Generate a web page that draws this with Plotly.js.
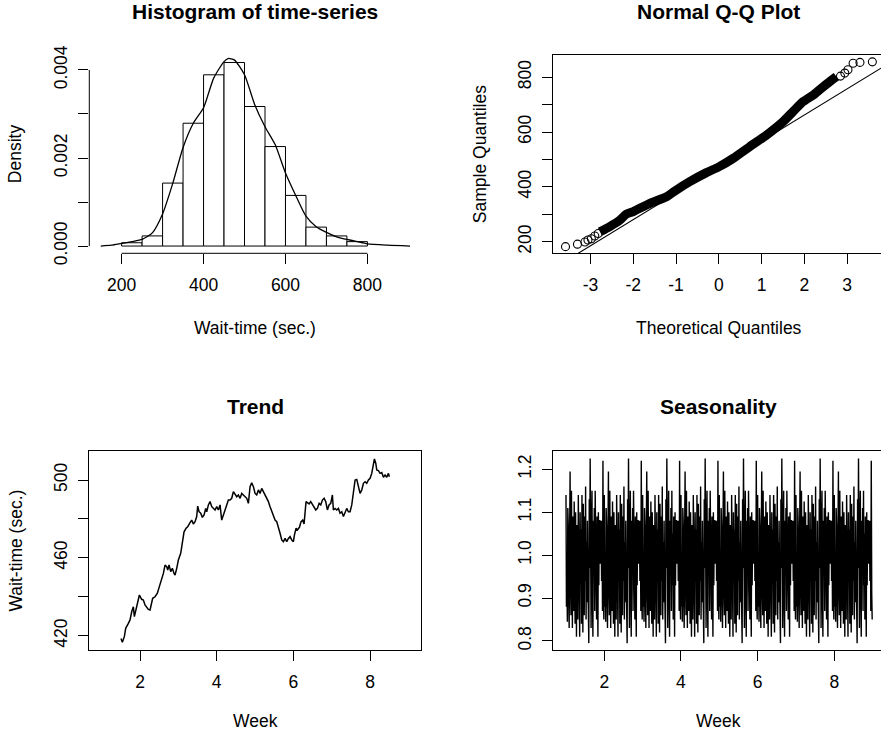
<!DOCTYPE html>
<html>
<head>
<meta charset="utf-8">
<script src="https://cdn.plot.ly/plotly-3.0.1.min.js"></script>
<style>html,body{margin:0;padding:0;background:#fff}#chart{width:881px;height:738px}</style>
</head>
<body>
<div id="chart"></div>
<script>
// ---------- Histogram of time-series ----------
const histBinStarts = [200, 250, 300, 350, 400, 450, 500, 550, 600, 650, 700, 750];
const histBinWidth = 50;
const histDensity = [0.000075, 0.00023, 0.00143, 0.00279, 0.00389, 0.00417, 0.00317, 0.00226, 0.00115, 0.00043, 0.00023, 0.0001];
const densityX = [149, 175, 200, 225, 250, 275, 300, 325, 350, 375, 400, 425, 450, 460, 475, 500, 525, 550, 575, 600, 625, 650, 675, 700, 725, 750, 775, 800, 850, 904];
const densityY = [0, 0.00002, 0.00006, 0.0001, 0.00015, 0.0003, 0.00073, 0.00143, 0.00224, 0.00279, 0.00314, 0.00382, 0.00419, 0.00426, 0.00423, 0.00389, 0.00321, 0.00271, 0.0023, 0.00166, 0.00115, 0.00068, 0.00044, 0.00031, 0.00021, 0.00015, 0.0001, 0.00005, 0.00002, 0];
const histXTicks = [200, 400, 600, 800];
const histYTicks = [0, 0.001, 0.002, 0.003, 0.004];
const histYTickText = ['0.000', '', '0.002', '', '0.004'];

// ---------- Normal Q-Q Plot ----------
const qqBandTheo = [-2.78, -2.55, -2.31, -2.16, -2.0, -1.61, -1.22, -0.99, -0.68, -0.29, 0, 0.335, 0.725, 1.115, 1.504, 1.738, 1.972, 2.206, 2.40, 2.595, 2.75];
const qqBandSample = [236, 255, 279, 301, 310, 340, 364, 389, 419, 452, 473, 504, 547, 589, 638, 675, 711, 735, 760, 784, 802];
const qqTailTheo = [-3.585, -3.305, -3.13, -3.06, -2.98, -2.90, -2.82, 2.845, 2.946, 3.02, 3.14, 3.30, 3.59];
const qqTailSample = [182, 191, 199, 206, 211, 221, 230, 804, 815, 827, 851, 854, 856];
const qqLineIntercept = 471.4;
const qqLineSlope = 95.4;
const qqXTicks = [-3, -2, -1, 0, 1, 2, 3];
const qqYTicks = [200, 300, 400, 500, 600, 700, 800];
const qqYTickText = ['200', '', '400', '', '600', '', '800'];

// ---------- Trend ----------
const trendWeek = [1.504, 1.539, 1.591, 1.626, 1.696, 1.739, 1.783, 1.826, 1.852, 1.896, 1.939, 1.983, 2.043, 2.087, 2.130, 2.174, 2.217, 2.261, 2.287, 2.330, 2.391, 2.452, 2.504, 2.565, 2.609, 2.652, 2.696, 2.722, 2.757, 2.800, 2.843, 2.887, 2.913, 2.957, 3.000, 3.061, 3.104, 3.148, 3.200, 3.243, 3.304, 3.348, 3.391, 3.435, 3.478, 3.504, 3.539, 3.583, 3.626, 3.670, 3.713, 3.739, 3.783, 3.826, 3.870, 3.913, 3.957, 4.000, 4.043, 4.087, 4.130, 4.174, 4.217, 4.261, 4.304, 4.348, 4.391, 4.435, 4.478, 4.522, 4.565, 4.609, 4.652, 4.696, 4.739, 4.783, 4.826, 4.870, 4.913, 4.957, 5.000, 5.043, 5.087, 5.130, 5.174, 5.217, 5.261, 5.304, 5.348, 5.391, 5.435, 5.478, 5.522, 5.565, 5.609, 5.652, 5.696, 5.739, 5.783, 5.826, 5.870, 5.913, 5.957, 6.000, 6.026, 6.070, 6.104, 6.157, 6.200, 6.243, 6.278, 6.304, 6.330, 6.365, 6.409, 6.452, 6.496, 6.539, 6.583, 6.626, 6.670, 6.713, 6.757, 6.800, 6.843, 6.887, 6.930, 6.974, 7.017, 7.043, 7.087, 7.130, 7.174, 7.217, 7.261, 7.304, 7.348, 7.391, 7.435, 7.478, 7.522, 7.565, 7.609, 7.652, 7.696, 7.739, 7.783, 7.826, 7.870, 7.913, 7.957, 8.000, 8.043, 8.087, 8.113, 8.148, 8.174, 8.217, 8.261, 8.304, 8.348, 8.391, 8.435, 8.478, 8.504];
const trendWait = [418.6, 416.6, 419.5, 423.8, 426.3, 428.1, 432.3, 434.9, 429.8, 434.0, 438.3, 440.9, 438.7, 438.3, 435.8, 434.9, 433.5, 433.2, 435.8, 439.2, 440.0, 441.8, 445.2, 448.6, 452.0, 456.3, 455.5, 453.7, 456.3, 452.9, 454.6, 452.0, 451.2, 454.6, 458.9, 462.3, 469.2, 473.4, 475.2, 476.0, 478.1, 479.4, 477.4, 478.6, 481.2, 486.6, 483.7, 482.9, 480.8, 482.0, 485.4, 483.7, 487.2, 488.9, 486.3, 485.4, 484.6, 486.3, 484.6, 487.2, 479.4, 482.0, 484.6, 488.0, 489.7, 489.7, 490.6, 494.0, 492.3, 491.4, 492.3, 490.6, 493.1, 492.3, 491.4, 490.6, 488.0, 496.6, 498.6, 496.6, 493.1, 492.3, 494.9, 493.1, 495.7, 494.0, 492.3, 490.6, 488.9, 486.3, 483.7, 481.2, 479.4, 478.6, 476.0, 472.6, 469.2, 468.3, 470.0, 468.3, 470.0, 470.9, 469.2, 468.3, 471.7, 475.2, 474.3, 475.7, 478.6, 479.4, 477.4, 483.7, 488.9, 488.4, 487.7, 488.9, 487.2, 486.3, 484.6, 485.4, 488.0, 487.2, 489.7, 490.6, 488.9, 484.6, 487.2, 488.0, 492.3, 484.6, 485.4, 484.6, 485.4, 482.9, 483.7, 481.2, 483.7, 485.4, 483.7, 483.7, 487.2, 494.0, 500.0, 500.3, 495.7, 493.1, 494.9, 498.3, 499.1, 498.3, 500.0, 500.9, 503.4, 507.7, 510.8, 508.6, 505.1, 504.8, 503.4, 503.8, 501.4, 502.6, 501.4, 503.4, 501.7];
const trendXTicks = [2, 4, 6, 8];
const trendYTicks = [420, 440, 460, 480, 500];
const trendYTickText = ['420', '', '460', '', '500'];

// ---------- Seasonality (one weekly cycle of the seasonal figure, repeated each week) ----------
const seasonalCycle = [
  1.14, 0.88, 0.96, 0.845, 1.11, 1.07, 0.90, 0.83, 1.05, 1.195, 0.93, 0.86,
  1.15, 0.97, 0.83, 1.09, 1.02, 0.87, 1.125, 0.95, 0.84, 1.10, 0.99, 0.81,
  1.07, 0.92, 0.85, 1.14, 1.03, 0.88, 0.81, 1.10, 0.96, 1.06, 0.84, 1.14,
  0.91, 0.82, 1.12, 1.00, 0.86, 1.09, 0.94, 1.16, 0.85, 1.03, 0.89, 1.08,
  0.95, 0.83, 0.795, 1.13, 0.97, 1.225, 0.88, 0.83, 1.06, 1.15, 0.90, 0.81,
  1.08, 0.96, 1.11, 0.87, 1.15, 0.93, 1.05, 0.85, 1.09, 1.00, 0.81, 1.10,
  0.93, 1.08, 1.08, 0.98, 1.08, 1.07, 0.94, 1.08, 0.87, 1.22, 0.91, 0.85
];
const seasonalStartWeek = 1;
const seasonalWeeks = 8;
const seasonXTicks = [2, 4, 6, 8];
const seasonYTicks = [0.8, 0.9, 1.0, 1.1, 1.2];

// ---------- build ----------
const FONT = 'Liberation Sans, Arial, Helvetica, sans-serif';
const W = 881, H = 738;
const px = v => v / W;
const py = v => 1 - v / H;

const leftDom = [px(89.3), px(420.7)];
const rightDom = [px(553.3), 1];
const topDom = [py(253.3), py(55)];
const botDom = [py(650), py(451)];

const seasonX = [], seasonY = [];
for (let w = 0; w < seasonalWeeks; w++) {
  for (let i = 0; i < seasonalCycle.length; i++) {
    seasonX.push(seasonalStartWeek + w + i / seasonalCycle.length);
    seasonY.push(seasonalCycle[i]);
  }
}

const histRangeX = [121.1, 930.1];
const histRangeY = [-0.000165, 0.00434];
const qqRangeX = [-3.87, 3.792];
const qqRangeY = [157.7, 881];

const traces = [
  {type: 'bar', x: histBinStarts.map(s => s + histBinWidth / 2), y: histDensity, width: histBinWidth,
   marker: {color: '#ffffff', line: {color: '#000', width: 1}}, xaxis: 'x', yaxis: 'y', hoverinfo: 'skip'},
  {type: 'scatter', mode: 'lines', x: densityX, y: densityY, line: {color: '#000', width: 1.3, shape: 'spline', smoothing: 0.6},
   xaxis: 'x', yaxis: 'y', hoverinfo: 'skip'},
  {type: 'scatter', mode: 'lines', x: qqRangeX, y: qqRangeX.map(t => qqLineIntercept + qqLineSlope * t),
   line: {color: '#000', width: 1.1}, xaxis: 'x2', yaxis: 'y2', hoverinfo: 'skip'},
  {type: 'scatter', mode: 'lines', x: qqBandTheo, y: qqBandSample, line: {color: '#000', width: 9, shape: 'spline', smoothing: 0.5},
   xaxis: 'x2', yaxis: 'y2', hoverinfo: 'skip'},
  {type: 'scatter', mode: 'markers', x: qqTailTheo, y: qqTailSample,
   marker: {symbol: 'circle-open', size: 8, color: '#000', line: {width: 1.1, color: '#000'}},
   xaxis: 'x2', yaxis: 'y2', hoverinfo: 'skip'},
  {type: 'scatter', mode: 'lines', x: trendWeek, y: trendWait, line: {color: '#000', width: 1.5},
   xaxis: 'x3', yaxis: 'y3', hoverinfo: 'skip'},
  {type: 'scatter', mode: 'lines', x: seasonX, y: seasonY, line: {color: '#000', width: 1.4},
   xaxis: 'x4', yaxis: 'y4', hoverinfo: 'skip'}
];

const baseAxis = {
  showgrid: false, zeroline: false, ticks: 'outside', ticklen: 10, tickwidth: 1, tickcolor: '#000',
  linecolor: '#000', linewidth: 1, tickfont: {family: FONT, size: 17.5, color: '#000'}, fixedrange: true
};
const xa = (o) => Object.assign({}, baseAxis, {tickmode: 'array', ticklabelstandoff: 6}, o);
const ya = (o) => Object.assign({}, baseAxis, {tickmode: 'array', tickangle: -90, ticklabelstandoff: 4}, o);

const titleFont = {family: FONT, size: 21, color: '#000', weight: 'bold'};
const labFont = {family: FONT, size: 17.5, color: '#000'};
const cxL = px((89.3 + 420.7) / 2), cxR = px((553.3 + 884.5) / 2);
const cyT = py((55 + 253.3) / 2), cyB = py((451 + 650) / 2);
const ann = (text, x, y, font, angle) => ({text, x, y, xref: 'paper', yref: 'paper', xanchor: 'center', yanchor: 'middle',
  showarrow: false, font, textangle: angle || 0});

const layout = {
  width: W, height: H, margin: {l: 0, r: 0, t: 0, b: 0}, paper_bgcolor: '#fff', plot_bgcolor: '#fff',
  showlegend: false, bargap: 0,
  xaxis: xa({domain: leftDom, range: histRangeX, tickvals: histXTicks, ticktext: histXTicks.map(String), showline: false, anchor: 'y'}),
  yaxis: ya({domain: topDom, range: histRangeY, tickvals: histYTicks, ticktext: histYTickText, showline: false, anchor: 'x'}),
  xaxis2: xa({domain: rightDom, range: qqRangeX, tickvals: qqXTicks, ticktext: qqXTicks.map(String), showline: true, mirror: true, anchor: 'y2'}),
  yaxis2: ya({domain: topDom, range: qqRangeY, tickvals: qqYTicks, ticktext: qqYTickText, showline: true, anchor: 'x2'}),
  xaxis3: xa({domain: leftDom, range: [0.677, 9.32], tickvals: trendXTicks, ticktext: trendXTicks.map(String), showline: true, mirror: true, anchor: 'y3'}),
  yaxis3: ya({domain: botDom, range: [412.65, 514.9], tickvals: trendYTicks, ticktext: trendYTickText, showline: true, mirror: true, anchor: 'x3'}),
  xaxis4: xa({domain: rightDom, range: [0.669, 9.218], tickvals: seasonXTicks, ticktext: seasonXTicks.map(String), showline: true, mirror: true, anchor: 'y4'}),
  yaxis4: ya({domain: botDom, range: [0.779, 1.2427], tickvals: seasonYTicks, ticktext: seasonYTicks.map(v => v.toFixed(1)), showline: true, anchor: 'x4'}),
  shapes: [
    {type: 'line', xref: 'x', yref: 'paper', x0: histXTicks[0], x1: histXTicks[histXTicks.length - 1], y0: topDom[0], y1: topDom[0], line: {color: '#000', width: 1}},
    {type: 'line', xref: 'paper', yref: 'y', x0: leftDom[0], x1: leftDom[0], y0: histYTicks[0], y1: histYTicks[histYTicks.length - 1], line: {color: '#000', width: 1}}
  ],
  annotations: [
    ann('Histogram of time-series', cxL, py(12), titleFont),
    ann('Normal Q-Q Plot', cxR, py(12), titleFont),
    ann('Trend', cxL, py(407), titleFont),
    ann('Seasonality', cxR, py(407), titleFont),
    ann('Wait-time (sec.)', cxL, py(328), labFont),
    ann('Theoretical Quantiles', cxR, py(328), labFont),
    ann('Week', cxL, py(721), labFont),
    ann('Week', cxR, py(721), labFont),
    ann('Density', px(15), cyT, labFont, -90),
    ann('Sample Quantiles', px(480), cyT, labFont, -90),
    ann('Wait-time (sec.)', px(15), cyB, labFont, -90)
  ]
};

Plotly.newPlot('chart', traces, layout, {displayModeBar: false, staticPlot: true});
</script>
</body>
</html>
